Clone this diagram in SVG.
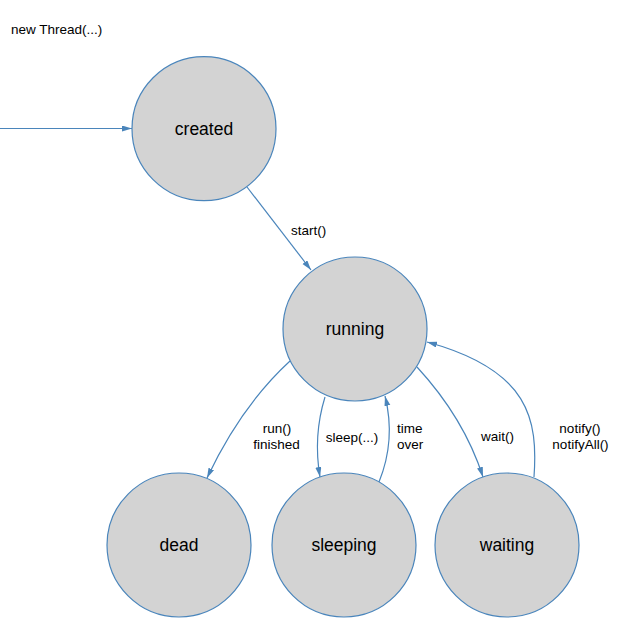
<svg xmlns="http://www.w3.org/2000/svg" width="618" height="627" viewBox="0 0 618 627">
<style>
.node circle{fill:#d3d3d3;stroke:#4a85bb;stroke-width:1.2}
.node text{font-family:"Liberation Sans",Arial,sans-serif;font-size:17.5px;fill:#000;text-anchor:middle}
.edge{fill:none;stroke:#4a85bb;stroke-width:1.2}
.lbl{font-family:"Liberation Sans",Arial,sans-serif;font-size:13.5px;fill:#000}
.mid{text-anchor:middle}
</style>
<defs>
<marker id="arr" markerUnits="userSpaceOnUse" markerWidth="10" markerHeight="7" refX="10" refY="3" orient="auto">
<path d="M0,0 L10,3 L0,6 z" fill="#4a85bb"/>
</marker>
</defs>
<rect width="618" height="627" fill="#fff"/>
<g id="connectors">
<path class="edge" d="M0,128.5 L132,128.5" marker-end="url(#arr)"/>
<path class="edge" d="M247,187 L311,270" marker-end="url(#arr)"/>
<path class="edge" d="M290,361 Q241,406 207,478" marker-end="url(#arr)"/>
<path class="edge" d="M325,397 Q313,436 320,477" marker-end="url(#arr)"/>
<path class="edge" d="M379,482 Q396,440 385,396" marker-end="url(#arr)"/>
<path class="edge" d="M417,367 Q464,418 483,477" marker-end="url(#arr)"/>
<path class="edge" d="M534,477 C538,420 530,370 427,342" marker-end="url(#arr)"/>
</g>
<g id="labels">
<text class="lbl" x="11" y="34">new Thread(...)</text>
<text class="lbl" x="291" y="235">start()</text>
<text class="lbl mid" x="277" y="433">run()</text>
<text class="lbl mid" x="276.5" y="449">finished</text>
<text class="lbl mid" x="352" y="442">sleep(...)</text>
<text class="lbl" x="397" y="433">time</text>
<text class="lbl" x="397" y="449">over</text>
<text class="lbl mid" x="497.5" y="441">wait()</text>
<text class="lbl mid" x="580" y="433">notify()</text>
<text class="lbl mid" x="580.5" y="449">notifyAll()</text>
</g>
<g id="created" class="node"><circle cx="204" cy="128.7" r="72"/><text x="204" y="135">created</text></g>
<g id="running" class="node"><circle cx="355" cy="329" r="72"/><text x="355" y="335">running</text></g>
<g id="dead" class="node"><circle cx="179" cy="545" r="72"/><text x="179" y="551">dead</text></g>
<g id="sleeping" class="node"><circle cx="344" cy="545" r="72"/><text x="344" y="551">sleeping</text></g>
<g id="waiting" class="node"><circle cx="507" cy="545" r="72"/><text x="507" y="551">waiting</text></g>
</svg>
